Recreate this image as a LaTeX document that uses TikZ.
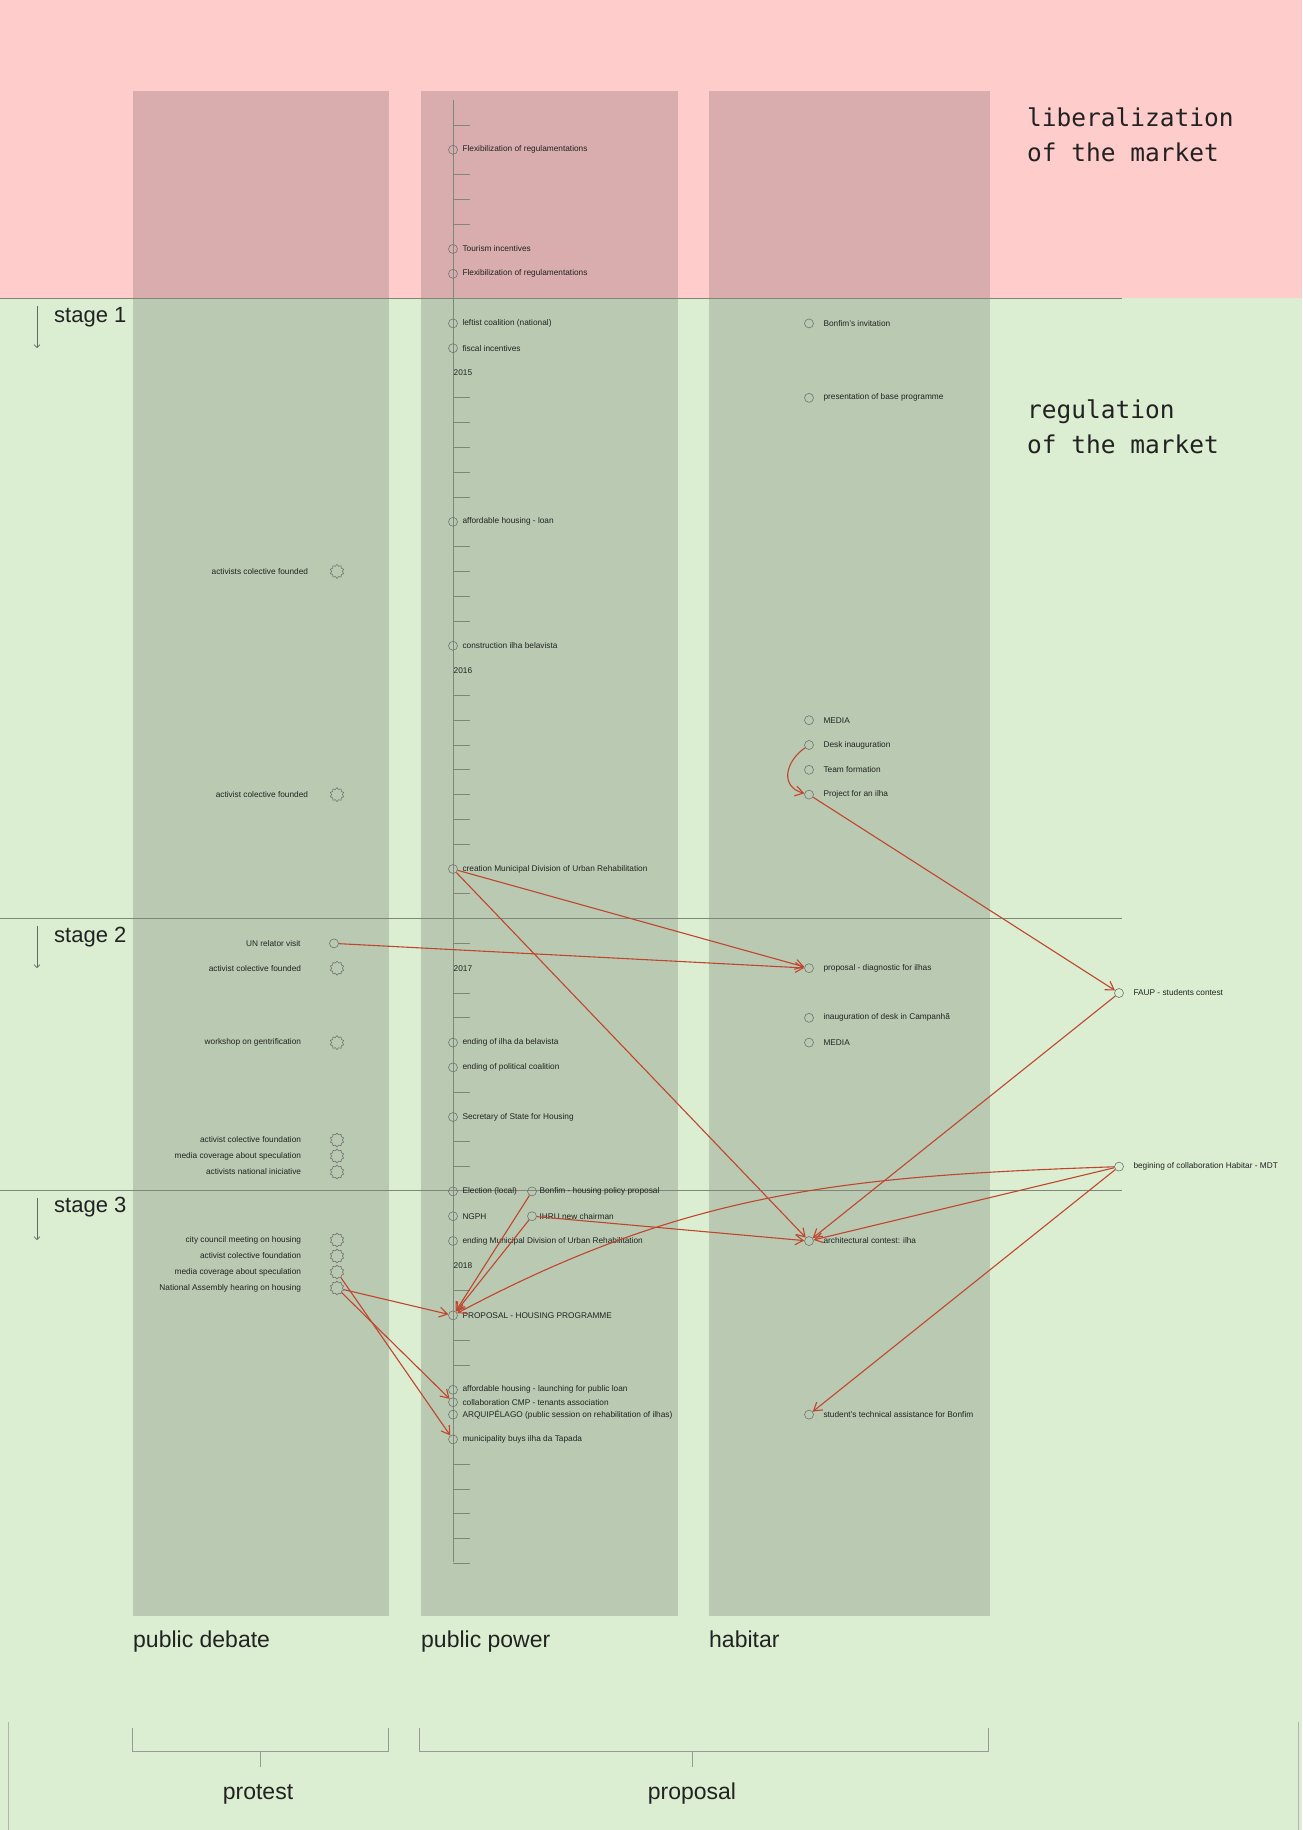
\documentclass[tikz,border=0pt]{standalone}
\usepackage{fontspec}
\setmainfont{Liberation Sans}
\newfontfamily\titlefont{DejaVu Sans Mono}
\usepackage{tikz}
\usetikzlibrary{arrows.meta,shapes.geometric}
\definecolor{pinkzone}{HTML}{FFCCCC}
\definecolor{greenzone}{HTML}{DBEED2}
\definecolor{flowred}{HTML}{C0452E}
\definecolor{ink}{HTML}{222222}
\definecolor{rule}{HTML}{7F877B}

\tikzset{
  lane/.style={fill=black,fill opacity=0.15,draw=none},
  stageline/.style={draw=rule,line width=0.9pt},
  axis/.style={draw=rule,line width=1pt},
  tickmark/.style={draw=rule,line width=0.8pt},
  evdot/.style={circle,draw=black!55,line width=0.6pt,minimum size=9pt,inner sep=0pt},
  evgear/.style={star,star points=10,star point ratio=1.3,draw=black!55,line width=0.6pt,
    minimum size=14pt,inner sep=0pt},
  evtext/.style={font=\fontsize{8.3}{10}\selectfont,text=ink,inner sep=1pt},
  ppev/.style={evdot,label={[evtext,label distance=3.5pt]right:{#1}}},
  ppside/.style={evdot,label={[evtext,label distance=1.5pt]right:{#1}}},
  hbev/.style={evdot,label={[evtext,label distance=8.5pt]right:{#1}}},
  pdev/.style 2 args={evgear,label={[evtext,label distance=#1]left:{#2}}},
  yearlbl/.style={font=\fontsize{8.3}{10}\selectfont,text=ink,anchor=west,inner sep=0.5pt},
  title/.style={font=\titlefont\fontsize{24.5}{35}\selectfont,align=left,inner sep=0pt,
    text=ink,anchor=west},
  stagelbl/.style={font=\fontsize{22}{26}\selectfont,text=ink,anchor=base west,inner sep=0pt},
  stagearrow/.style={draw=black!60,line width=0.6pt,-{Straight Barb[length=3pt,width=6pt]}},
  lanelbl/.style={font=\fontsize{23}{27}\selectfont,text=ink,anchor=base west,inner sep=0pt},
  brace/.style={draw=black!40,line width=1pt},
  flow/.style={draw=flowred,line width=1.1pt,-{Straight Barb[length=8pt,width=10pt]}}
}

\begin{document}
\begin{tikzpicture}[x=1pt,y=1pt]
\useasboundingbox (0,0) rectangle (1302,-1830);
% zones
\fill[pinkzone] (0,0) rectangle (1302,-298);
\fill[greenzone] (0,-298) rectangle (1302,-1830);
\draw[black!30,line width=0.6pt] (8,-1722) -- (8,-1830) (1298,-1722) -- (1298,-1830);
% lanes
\fill[lane] (133,-91) rectangle (389,-1616);
\fill[lane] (421,-91) rectangle (678,-1616);
\fill[lane] (709,-91) rectangle (990,-1616);
% stages
\draw[stageline] (0,-298) -- (1122,-298);
\draw[stageline] (0,-918) -- (1122,-918);
\draw[stageline] (0,-1190) -- (1122,-1190);
\node[stagelbl] (st1) at (54,-322) {stage 1};
\node[stagelbl] (st2) at (54,-942) {stage 2};
\node[stagelbl] (st3) at (54,-1212) {stage 3};
\draw[stagearrow] (37,-306) -- (37,-348);
\draw[stagearrow] (37,-926) -- (37,-968);
\draw[stagearrow] (37,-1198) -- (37,-1240);
% titles
\node[title] (liberal) at (1027,-135) {liberalization\\of the market};
\node[title] (regul) at (1027,-427) {regulation\\of the market};

% timeline
\draw[axis] (453,-100) -- (453,-1562);
\foreach \k in {0,2,3,4,7,11,12,13,14,15,17,18,19,20,23,24,25,26,27,28,29,31,32,33,
  35,36,39,41,42,47,49,50,54,55,56,57,58}
  \draw[tickmark] (453,{-125-24.8*\k}) -- ++(17,0);
\node[yearlbl] (y2015) at (453,-373) {2015};
\node[yearlbl] (y2016) at (453,-670.6) {2016};
\node[yearlbl] (y2017) at (453,-968.2) {2017};
\node[yearlbl] (y2018) at (453,-1265.8) {2018};

% public power
\node[ppev=Flexibilization of regulamentations] (flex1) at (453,-149.8) {};
\node[ppev=Tourism incentives] (tourism) at (453,-249) {};
\node[ppev=Flexibilization of regulamentations] (flex2) at (453,-273.8) {};
\node[ppev=leftist coalition (national)] (leftist) at (453,-323.4) {};
\node[ppev=fiscal incentives] (fiscal) at (453,-348.2) {};
\node[ppev=affordable housing - loan] (loan) at (453,-521.8) {};
\node[ppev=construction ilha belavista] (belavista) at (453,-645.8) {};
\node[ppev=creation Municipal Division of Urban Rehabilitation] (dmru) at (453,-869) {};
\node[ppev=ending of ilha da belavista] (endbela) at (453,-1042.6) {};
\node[ppev=ending of political coalition] (endcoal) at (453,-1067.4) {};
\node[ppev=Secretary of State for Housing] (secstate) at (453,-1117) {};
\node[ppev=Election (local)] (election) at (453,-1191.4) {};
\node[ppev=NGPH] (ngph) at (453,-1216.2) {};
\node[ppev=ending Municipal Division of Urban Rehabilitation] (enddmru) at (453,-1241) {};
\node[ppev=PROPOSAL - HOUSING PROGRAMME] (proposal) at (453,-1315.4) {};
\node[ppev=affordable housing - launching for public loan] (launch) at (453,-1389.8) {};
\node[ppev=collaboration CMP - tenants association] (cmp) at (453,-1402.2) {};
\node[ppev=ARQUIPÉLAGO (public session on rehabilitation of ilhas)] (arqui) at (453,-1414.6) {};
\node[ppev=municipality buys ilha da Tapada] (tapada) at (453,-1439.4) {};
\node[ppside=Bonfim - housing policy proposal] (bonfim) at (532,-1191.4) {};
\node[ppside=IHRU new chairman] (ihru) at (532,-1216.2) {};

% habitar
\node[hbev=Bonfim's invitation] (invit) at (809,-323.4) {};
\node[hbev=presentation of base programme] (baseprog) at (809,-397.8) {};
\node[hbev=MEDIA] (media1) at (809,-720.2) {};
\node[hbev=Desk inauguration] (desk) at (809,-745) {};
\node[hbev=Team formation] (team) at (809,-769.8) {};
\node[hbev=Project for an ilha] (project) at (809,-794.6) {};
\node[hbev=proposal - diagnostic for ilhas] (diagnostic) at (809,-968.2) {};
\node[hbev=inauguration of desk in Campanhã] (campanha) at (809,-1017.8) {};
\node[hbev=MEDIA] (media2) at (809,-1042.6) {};
\node[hbev=architectural contest: ilha] (contest) at (809,-1241) {};
\node[hbev=student's technical assistance for Bonfim] (assist) at (809,-1414.6) {};
\node[hbev=FAUP - students contest] (faup) at (1119,-993) {};
\node[hbev=begining of collaboration Habitar - MDT] (mdt) at (1119,-1166.6) {};

% public debate
\node[pdev={22pt}{activists colective founded}] (coll1) at (337,-571.4) {};
\node[pdev={22pt}{activist colective founded}] (coll2) at (337,-794.6) {};
\node[evdot,label={[evtext,label distance=27.5pt]left:UN relator visit}] (unvisit) at (334,-943.4) {};
\node[pdev={29pt}{activist colective founded}] (coll3) at (337,-968.2) {};
\node[pdev={29pt}{workshop on gentrification}] (workshop) at (337,-1042.6) {};
\node[pdev={29pt}{activist colective foundation}] (found1) at (337,-1140) {};
\node[pdev={29pt}{media coverage about speculation}] (spec1) at (337,-1156) {};
\node[pdev={29pt}{activists national iniciative}] (national) at (337,-1172) {};
\node[pdev={29pt}{city council meeting on housing}] (council) at (337,-1240) {};
\node[pdev={29pt}{activist colective foundation}] (found2) at (337,-1256) {};
\node[pdev={29pt}{media coverage about speculation}] (spec2) at (337,-1272) {};
\node[pdev={29pt}{National Assembly hearing on housing}] (assembly) at (337,-1288) {};

% influences
\draw[flow] (desk) to[out=215,in=165,looseness=1.4] (project);
\draw[flow] (project) -- (faup);
\draw[flow] (dmru) -- (diagnostic);
\draw[flow] (dmru) -- (contest);
\draw[flow] (unvisit) -- (diagnostic);
\draw[flow] (faup) -- (contest);
\draw[flow] (mdt) to[out=182,in=28] (proposal);
\draw[flow] (mdt) -- (contest);
\draw[flow] (mdt) -- (assist);
\draw[flow] (ihru) -- (contest);
\draw[flow] (bonfim) -- (proposal);
\draw[flow] (ihru) -- (proposal);
\draw[flow] (assembly) -- (proposal);
\draw[flow] (assembly) -- (cmp);
\draw[flow] (spec2) -- (tapada);

% lanes and groups
\node[lanelbl] (debate) at (133,-1647) {public debate};
\node[lanelbl] (power) at (421,-1647) {public power};
\node[lanelbl] (habitar) at (709,-1647) {habitar};
\draw[brace] (132,-1728) |- (260,-1751) -| (388,-1728);
\draw[brace] (260,-1751) -- (260,-1767);
\draw[brace] (419,-1728) |- (692,-1751) -| (988,-1728);
\draw[brace] (692,-1751) -- (692,-1767);
\node[lanelbl,anchor=base] (protest) at (258,-1799) {protest};
\node[lanelbl,anchor=base] (proposal-grp) at (692,-1799) {proposal};
\end{tikzpicture}
\end{document}
